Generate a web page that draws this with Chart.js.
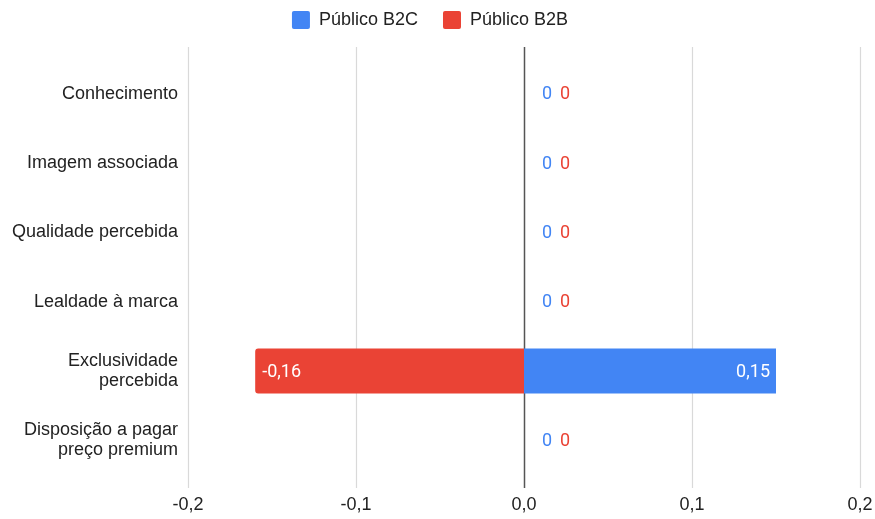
<!DOCTYPE html>
<html>
<head>
<meta charset="utf-8">
<script src="https://cdn.jsdelivr.net/npm/chart.js@4"></script>
<style>
html,body{margin:0;padding:0;background:#fff;}
#wrap{width:875px;height:519px;position:relative;}
</style>
</head>
<body>
<div id="wrap"><canvas id="c" width="875" height="519"></canvas></div>
<script>
const categories = [
  "Conhecimento",
  "Imagem associada",
  "Qualidade percebida",
  "Lealdade à marca",
  ["Exclusividade", "percebida"],
  ["Disposição a pagar", "preço premium"]
];
const seriesNames = ["Público B2C", "Público B2B"];
const b2cValues = [0, 0, 0, 0, 0.15, 0];
const b2bValues = [0, 0, 0, 0, -0.16, 0];
const xTicks = [-0.2, -0.1, 0.0, 0.1, 0.2];
const colors = ["#4285F4", "#EA4335"];

const FONT = '"Liberation Sans", Arial, sans-serif';

function fmt(v, d) {
  return (d === undefined ? String(v) : v.toFixed(d)).replace('.', ',');
}

const PLOT_TOP = 59;

const legendFitPlugin = {
  id: 'legendFit',
  beforeInit(chart) {
    const lg = chart.legend;
    const orig = lg.fit;
    lg.fit = function () {
      orig.call(this);
      this.height = PLOT_TOP - chart.options.layout.padding.top;
    };
  }
};

const gridPlugin = {
  id: 'extGrid',
  beforeDatasetsDraw(chart) {
    const ctx = chart.ctx, xs = chart.scales.x, a = chart.chartArea;
    ctx.save();
    xTicks.forEach(t => {
      const px = Math.round(xs.getPixelForValue(t)) + 0.5;
      ctx.strokeStyle = t === 0 ? '#555555' : '#d9d9d9';
      ctx.lineWidth = t === 0 ? 1.5 : 1.2;
      ctx.beginPath();
      ctx.moveTo(px, a.top - 12);
      ctx.lineTo(px, a.bottom + 13);
      ctx.stroke();
    });
    ctx.restore();
  },
  afterDatasetsDraw(chart) {
    const ctx = chart.ctx, xs = chart.scales.x, ys = chart.scales.y;
    const x0 = xs.getPixelForValue(0);
    ctx.save();
    ctx.font = '18px Roboto, "Liberation Sans", sans-serif';
    ctx.textBaseline = 'middle';
    categories.forEach((c, i) => {
      const y = ys.getPixelForValue(i);
      const vals = [b2cValues[i], b2bValues[i]];
      if (vals[0] === 0 && vals[1] === 0) {
        ctx.textAlign = 'left';
        ctx.fillStyle = colors[0];
        ctx.fillText('0', x0 + 18, y + 1);
        ctx.fillStyle = colors[1];
        ctx.fillText('0', x0 + 36, y + 1);
      } else {
        vals.forEach((v, k) => {
          if (v === 0) return;
          const px = xs.getPixelForValue(v);
          ctx.fillStyle = '#ffffff';
          if (v > 0) { ctx.textAlign = 'right'; ctx.fillText(fmt(v), px - 6, y + 1); }
          else { ctx.textAlign = 'left'; ctx.fillText(fmt(v), px + 7, y + 1); }
        });
      }
    });
    ctx.restore();
  }
};

new Chart(document.getElementById('c'), {
  type: 'bar',
  data: {
    labels: categories,
    datasets: [
      { label: seriesNames[0], data: b2cValues, backgroundColor: colors[0], borderRadius: 0, categoryPercentage: 1, barPercentage: 0.65 },
      { label: seriesNames[1], data: b2bValues, backgroundColor: colors[1], borderRadius: 3, borderSkipped: 'start', categoryPercentage: 1, barPercentage: 0.65 }
    ]
  },
  options: {
    indexAxis: 'y',
    responsive: false,
    animation: false,
    layout: { padding: { top: -14, right: 15, left: 0, bottom: 0 } },
    plugins: {
      legend: {
        position: 'top',
        labels: {
          color: '#222222',
          font: { family: FONT, size: 18 },
          boxWidth: 18, boxHeight: 18, padding: 25,
          useBorderRadius: true, borderRadius: 2
        }
      },
      tooltip: { enabled: false }
    },
    scales: {
      x: {
        type: 'linear', stacked: true, min: -0.2, max: 0.2,
        afterBuildTicks(s) { s.ticks = xTicks.map(v => ({ value: v })); },
        ticks: {
          color: '#222222', padding: 19,
          font: { family: FONT, size: 18 },
          callback: v => fmt(v, 1)
        },
        grid: { display: false, drawTicks: false },
        border: { display: false },
        afterFit(s) { s.height = 44; s.paddingLeft = 0; s.paddingRight = 0; }
      },
      y: {
        stacked: true,
        ticks: {
          color: '#222222', padding: 10,
          font: { family: FONT, size: 18, lineHeight: 1.1 }
        },
        grid: { display: false, drawTicks: false },
        border: { display: false },
        afterFit(s) { s.width = 188; s.paddingTop = 0; s.paddingBottom = 0; }
      }
    }
  },
  plugins: [legendFitPlugin, gridPlugin]
});
</script>
</body>
</html>
